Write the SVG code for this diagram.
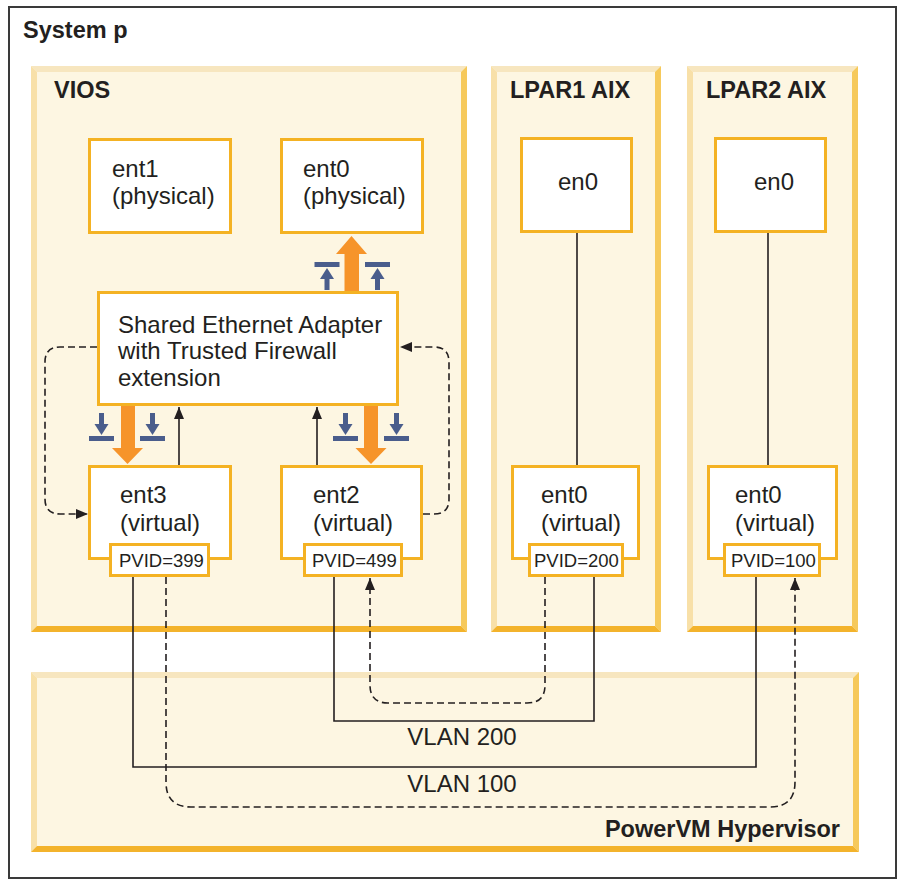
<svg xmlns="http://www.w3.org/2000/svg" width="899" height="882" viewBox="0 0 899 882">
<defs>
<style>
.t{font-family:"Liberation Sans",Arial,sans-serif;font-size:24px;fill:#231f20}
.b{font-family:"Liberation Sans",Arial,sans-serif;font-size:23.5px;font-weight:bold;fill:#231f20}
.p{font-family:"Liberation Sans",Arial,sans-serif;font-size:18.5px;fill:#231f20}
.box{fill:#ffffff;stroke:#f4b223;stroke-width:3}
.cf{fill:#fdf6e2}
.bt{fill:#f7e6bf}
.bl{fill:#f8e0a8}
.br{fill:#f6c95b}
.bb{fill:#f3b32c}
.ln{fill:none;stroke:#231f20;stroke-width:1.6}
.dl{fill:none;stroke:#231f20;stroke-width:1.6;stroke-dasharray:7 4}
.or{fill:#f6942a}
.bu{fill:#4a5d8c}
</style>
<marker id="ah" viewBox="0 0 12 10" refX="12" refY="5" markerWidth="12" markerHeight="10" markerUnits="userSpaceOnUse" orient="auto">
<path d="M0,0 L12,5 L0,10 Z" fill="#231f20"/>
</marker>
</defs>
<rect x="0" y="0" width="899" height="882" fill="#ffffff"/>
<rect x="9" y="7" width="887" height="871" fill="#ffffff" stroke="#3a3a3a" stroke-width="2"/>
<text class="b" x="23" y="38">System p</text>

<g id="vios">
<rect class="cf" x="31" y="66" width="436" height="566"/>
<polygon class="bt" points="31,66 467,66 461,72 37,72"/>
<polygon class="bl" points="31,66 37,72 37,626 31,632"/>
<polygon class="br" points="467,66 467,632 461,626 461,72"/>
<polygon class="bb" points="31,632 467,632 461,626 37,626"/>
<text class="b" x="54" y="98">VIOS</text>
</g>
<g id="lpar1">
<rect class="cf" x="491" y="66" width="170" height="566"/>
<polygon class="bt" points="491,66 661,66 655,72 497,72"/>
<polygon class="bl" points="491,66 497,72 497,626 491,632"/>
<polygon class="br" points="661,66 661,632 655,626 655,72"/>
<polygon class="bb" points="491,632 661,632 655,626 497,626"/>
<text class="b" x="510" y="98">LPAR1 AIX</text>
</g>
<g id="lpar2">
<rect class="cf" x="687" y="66" width="171" height="566"/>
<polygon class="bt" points="687,66 858,66 852,72 693,72"/>
<polygon class="bl" points="687,66 693,72 693,626 687,632"/>
<polygon class="br" points="858,66 858,632 852,626 852,72"/>
<polygon class="bb" points="687,632 858,632 852,626 693,626"/>
<text class="b" x="706" y="98">LPAR2 AIX</text>
</g>
<g id="hypervisor">
<rect class="cf" x="31" y="672" width="828" height="180"/>
<polygon class="bt" points="31,672 859,672 853,678 37,678"/>
<polygon class="bl" points="31,672 37,678 37,846 31,852"/>
<polygon class="br" points="859,672 859,852 853,846 853,678"/>
<polygon class="bb" points="31,852 859,852 853,846 37,846"/>
<text class="b" x="840" y="837" text-anchor="end">PowerVM Hypervisor</text>
</g>

<g id="connectors">
<path class="dl" d="M97,347 H60 Q45,347 45,362 V499 Q45,514 60,514 H88" marker-end="url(#ah)"/>
<path class="dl" d="M423,514 H434 Q449,514 449,499 V362 Q449,347 434,347 H400" marker-end="url(#ah)"/>
<path class="ln" d="M179,465 V407" marker-end="url(#ah)"/>
<path class="ln" d="M317,465 V407" marker-end="url(#ah)"/>
<path class="ln" d="M577,233 V465"/>
<path class="ln" d="M768,233 V465"/>
<path class="ln" d="M334,577 V721 H594 V577"/>
<path class="ln" d="M133,577 V767 H756 V577"/>
<path class="dl" d="M545,577 V685 Q545,703 527,703 H388 Q370,703 370,685 V578" marker-end="url(#ah)"/>
<path class="dl" d="M166,577 V782 Q166,807 191,807 H770 Q795,807 795,782 V578" marker-end="url(#ah)"/>
<polygon class="or" points="344.5,291 344.5,254 336,254 351.5,236 367,254 359,254 359,291"/>
<polygon class="or" points="121,406 121,448 112,448 127.5,464 143,448 135,448 135,406"/>
<polygon class="or" points="364,406 364,448 355.5,448 371,464 386.5,448 378,448 378,406"/>
<g id="filters">
<rect class="bu" x="314.5" y="262" width="25" height="5"/>
<polygon class="bu" points="320,279 334,279 327,268"/>
<rect class="bu" x="324.5" y="278" width="5" height="12"/>
<rect class="bu" x="365" y="262" width="25" height="5"/>
<polygon class="bu" points="370.5,279 384.5,279 377.5,268"/>
<rect class="bu" x="375" y="278" width="5" height="12"/>
<rect class="bu" x="89" y="436" width="25" height="5"/>
<polygon class="bu" points="94.5,424 108.5,424 101.5,435"/>
<rect class="bu" x="99" y="413" width="5" height="12"/>
<rect class="bu" x="140" y="436" width="25" height="5"/>
<polygon class="bu" points="145.5,424 159.5,424 152.5,435"/>
<rect class="bu" x="150" y="413" width="5" height="12"/>
<rect class="bu" x="333" y="436" width="25" height="5"/>
<polygon class="bu" points="338.5,424 352.5,424 345.5,435"/>
<rect class="bu" x="343" y="413" width="5" height="12"/>
<rect class="bu" x="384" y="436" width="25" height="5"/>
<polygon class="bu" points="389.5,424 403.5,424 396.5,435"/>
<rect class="bu" x="394" y="413" width="5" height="12"/>
</g>
<text class="t" x="462" y="745" text-anchor="middle">VLAN 200</text>
<text class="t" x="462" y="792" text-anchor="middle">VLAN 100</text>
</g>

<g id="ent1">
<rect class="box" x="89.5" y="139.5" width="141" height="93"/>
<text class="t" x="112" y="177">ent1</text>
<text class="t" x="112" y="204">(physical)</text>
</g>
<g id="ent0-phys">
<rect class="box" x="281.5" y="139.5" width="141" height="93"/>
<text class="t" x="303" y="177">ent0</text>
<text class="t" x="303" y="204">(physical)</text>
</g>
<g id="sea">
<rect class="box" x="98.5" y="292.5" width="299" height="112"/>
<text class="t" x="118" y="333">Shared Ethernet Adapter</text>
<text class="t" x="118" y="359">with Trusted Firewall</text>
<text class="t" x="118" y="386">extension</text>
</g>
<g id="ent3">
<rect class="box" x="89.5" y="466.5" width="141" height="92"/>
<text class="t" x="120" y="503">ent3</text>
<text class="t" x="120" y="531">(virtual)</text>
<rect class="box" x="110.5" y="544.5" width="98" height="31"/>
<text class="p" x="119" y="567">PVID=399</text>
</g>
<g id="ent2">
<rect class="box" x="281.5" y="466.5" width="140" height="92"/>
<text class="t" x="313" y="503">ent2</text>
<text class="t" x="313" y="531">(virtual)</text>
<rect class="box" x="304.5" y="544.5" width="97" height="31"/>
<text class="p" x="312" y="567">PVID=499</text>
</g>
<g id="lpar1-en0">
<rect class="box" x="521.5" y="138.5" width="110" height="93"/>
<text class="t" x="558" y="190">en0</text>
</g>
<g id="lpar1-ent0">
<rect class="box" x="512.5" y="466.5" width="126" height="92"/>
<text class="t" x="541" y="503">ent0</text>
<text class="t" x="541" y="531">(virtual)</text>
<rect class="box" x="529.5" y="544.5" width="93" height="31"/>
<text class="p" x="534" y="567">PVID=200</text>
</g>
<g id="lpar2-en0">
<rect class="box" x="715.5" y="138.5" width="110" height="93"/>
<text class="t" x="754" y="190">en0</text>
</g>
<g id="lpar2-ent0">
<rect class="box" x="708.5" y="466.5" width="128" height="92"/>
<text class="t" x="735" y="503">ent0</text>
<text class="t" x="735" y="531">(virtual)</text>
<rect class="box" x="724.5" y="544.5" width="95" height="31"/>
<text class="p" x="731" y="567">PVID=100</text>
</g>
</svg>
